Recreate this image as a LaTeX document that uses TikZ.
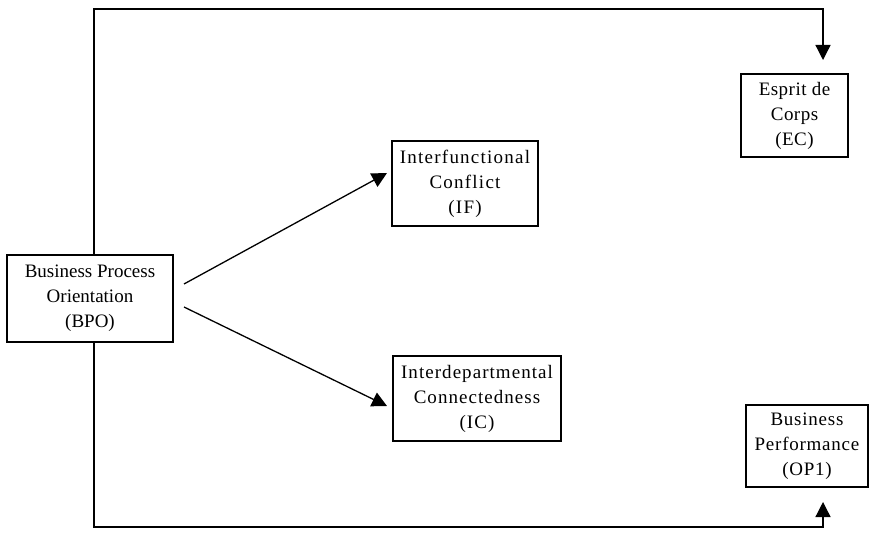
\documentclass[tikz,border=0pt]{standalone}
\usepackage{fontspec}
\setmainfont{Liberation Serif}
\usetikzlibrary{arrows.meta}
\newcommand\spaced[1]{\addfontfeatures{LetterSpace=#1}}
\begin{document}
\begin{tikzpicture}[x=1pt,y=-1pt,
  box/.style={draw, line width=1.2pt, inner sep=0pt, align=center,
    font=\fontsize{19}{25}\selectfont},
  link/.style={line width=1.3pt, -{Triangle[length=15pt,width=15pt]}}]
  \useasboundingbox (0,0) rectangle (869,559);
  % constructs
  \node[box, minimum width=166pt, minimum height=87pt] (BPO) at (90,298.5)
    {Business Process\\Orientation\\(BPO)};
  \node[box, minimum width=146pt, minimum height=85pt,
    font=\fontsize{19}{25}\selectfont\spaced{6.5}] (IF) at (465,183.5)
    {Interfunctional\\Conflict\\(IF)};
  \node[box, minimum width=168pt, minimum height=85pt,
    font=\fontsize{19}{25}\selectfont\spaced{5.5}] (IC) at (477,398.5)
    {Interdepartmental\\Connectedness\\(IC)};
  \node[box, minimum width=107pt, minimum height=83pt,
    font=\fontsize{19}{25}\selectfont\spaced{2.5}] (EC) at (794.5,115.5)
    {Esprit de\\Corps\\(EC)};
  \node[box, minimum width=122pt, minimum height=82pt,
    font=\fontsize{19}{25}\selectfont\spaced{4}] (OP) at (807,446)
    {Business\\Performance\\(OP1)};
  % arrow end points and routing lines
  \coordinate (ECin) at (823,60);
  \coordinate (OPin) at (823,502);
  \coordinate (topY) at (0,9);
  \coordinate (botY) at (0,527);
  \coordinate (IFa) at (184,284);
  \coordinate (IFb) at (387,173);
  \coordinate (ICa) at (184,307);
  \coordinate (ICb) at (387,406);
  % paths
  \draw[link] (IFa) -- (IFb);
  \draw[link] (ICa) -- (ICb);
  \draw[link] (BPO.north -| 94,0) |- (ECin |- topY) -- (ECin);
  \draw[link] (BPO.south -| 94,0) |- (OPin |- botY) -- (OPin);
\end{tikzpicture}
\end{document}
